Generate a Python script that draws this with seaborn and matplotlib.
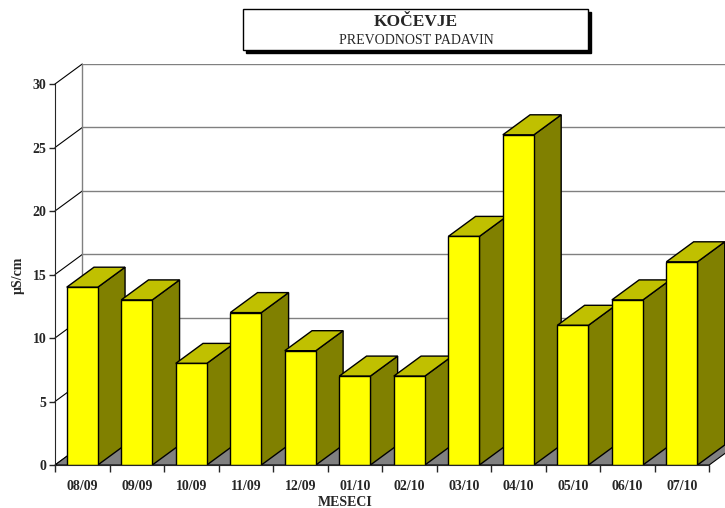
import matplotlib
matplotlib.use("Agg")
import matplotlib.pyplot as plt
from matplotlib.patches import Polygon, Rectangle
import seaborn as sns
import pandas as pd

months = ["08/09", "09/09", "10/09", "11/09", "12/09", "01/10",
          "02/10", "03/10", "04/10", "05/10", "06/10", "07/10"]
values = [14, 13, 8, 12, 9, 7, 7, 18, 26, 11, 13, 16]
yticks = [0, 5, 10, 15, 20, 25, 30]

title = "KOČEVJE"
subtitle = "PREVODNOST PADAVIN"

# pseudo 3d depth, in data units
DX = 0.5
DY = 1.575
W = 0.57

sns.set_style("white")
plt.rcParams["font.family"] = ["Liberation Serif", "DejaVu Serif"]

fig = plt.figure(figsize=(7.25, 5.08), dpi=100)
ax = fig.add_axes([55 / 725, 43 / 508, 670 / 725, 401 / 508])

df = pd.DataFrame({"mesec": months, "vrednost": values})
sns.barplot(data=df, x="mesec", y="vrednost", color="#FFFF00", width=W,
            edgecolor="black", linewidth=1, saturation=1, ax=ax)

n = len(months)
ax.set_xlim(-0.5, n - 0.5 + 0.29)
ax.set_ylim(0, yticks[-1] + DY)

# back wall grid and left wall
for v in yticks:
    ax.plot([DX - 0.5, n - 0.5 + DX + 1], [v + DY, v + DY], color="#808080", lw=1, zorder=0.5, clip_on=True)
    ax.plot([-0.5, DX - 0.5], [v, v + DY], color="black", lw=0.8, zorder=0.6, clip_on=False)
ax.plot([DX - 0.5, DX - 0.5], [DY, yticks[-1] + DY], color="#808080", lw=1, zorder=0.6, clip_on=False)

# floor
floor = Polygon([(-0.5, 0), (n - 0.5, 0), (n - 0.5 + DX, DY), (DX - 0.5, DY)],
                closed=True, facecolor="#808080", edgecolor="black", lw=0.8, zorder=1)
ax.add_patch(floor)

for i, p in enumerate(ax.patches[:n]):
    x0 = p.get_x()
    w = p.get_width()
    h = p.get_height()
    x1 = x0 + w
    p.set_zorder(2 + i * 0.1 + 0.03)
    side = Polygon([(x1, 0), (x1 + DX, DY), (x1 + DX, h + DY), (x1, h)], closed=True,
                   facecolor="#808000", edgecolor="black", lw=1, zorder=2 + i * 0.1 + 0.01)
    top = Polygon([(x0, h), (x1, h), (x1 + DX, h + DY), (x0 + DX, h + DY)], closed=True,
                  facecolor="#C0C000", edgecolor="black", lw=1, zorder=2 + i * 0.1 + 0.02)
    ax.add_patch(side)
    ax.add_patch(top)

for s in ["top", "right"]:
    ax.spines[s].set_visible(False)
ax.spines["left"].set_bounds(0, yticks[-1])
ax.spines["bottom"].set_bounds(-0.5, n - 0.5)
ax.spines["left"].set_zorder(5)
ax.spines["bottom"].set_zorder(5)

ax.set_yticks(yticks)
ax.set_yticklabels([str(v) for v in yticks], fontsize=10, fontweight="bold")
ax.tick_params(axis="y", length=4, width=1, direction="out", left=True, pad=2)
ax.set_xticks(range(n))
ax.set_xticklabels(months, fontsize=10, fontweight="bold")
ax.set_xticks([i - 0.5 for i in range(n + 1)], minor=True)
ax.tick_params(axis="x", which="major", length=0, pad=11)
ax.tick_params(axis="x", which="minor", length=5, width=1, direction="out", bottom=True)

ax.set_xlabel("MESECI", fontsize=10, fontweight="bold")
ax.set_ylabel("µS/cm", fontsize=10, fontweight="bold")
ax.xaxis.set_label_coords(290 / 670, -38 / 401)
ax.xaxis.label.set_va("center")
ax.yaxis.set_label_coords(-37 / 670, 190 / 401)
ax.yaxis.label.set_va("center")

# title box with shadow
fig.patches.append(Rectangle((246 / 725, 1 - 53 / 508), 345 / 725, 41 / 508,
                             transform=fig.transFigure, facecolor="black", edgecolor="black", zorder=1))
fig.patches.append(Rectangle((243 / 725, 1 - 50 / 508), 345 / 725, 41 / 508,
                             transform=fig.transFigure, facecolor="white", edgecolor="black", lw=1, zorder=2))
fig.text(416 / 725, 1 - 22 / 508, title, ha="center", va="center", fontsize=12.5, fontweight="bold", zorder=3)
fig.text(416 / 725, 1 - 40 / 508, subtitle, ha="center", va="center", fontsize=10, zorder=3)

fig.savefig("out.png", dpi=100)
